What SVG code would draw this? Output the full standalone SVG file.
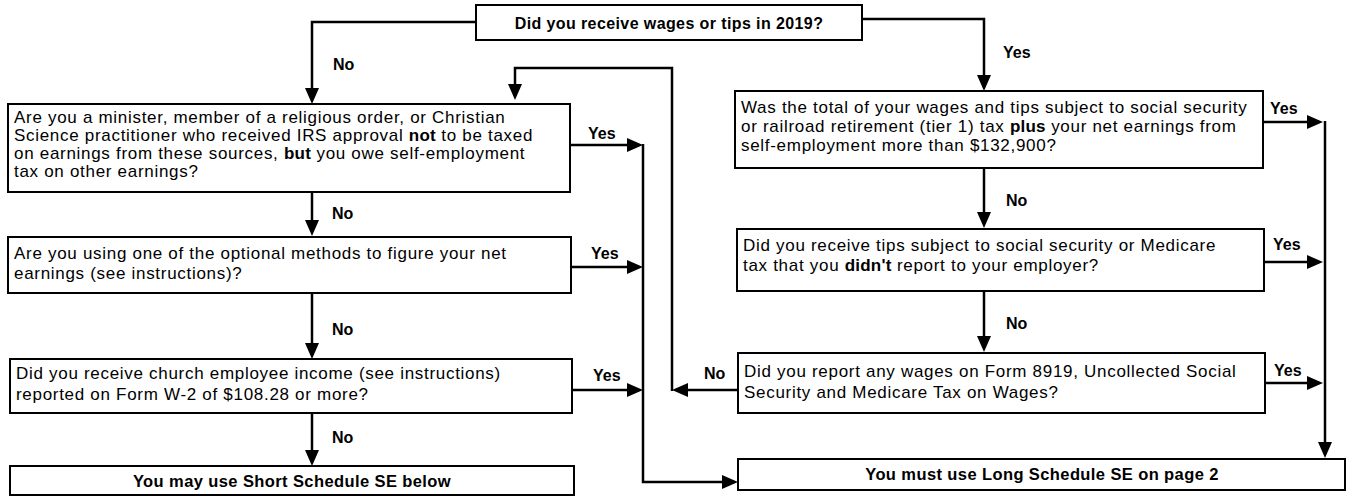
<svg xmlns="http://www.w3.org/2000/svg" width="1346" height="503" viewBox="0 0 1346 503">
<style>
.box{fill:#fff;stroke:#000;stroke-width:2}
.t{font-family:"Liberation Sans",Arial,sans-serif;font-size:17px;letter-spacing:0.7px;fill:#000}
.b{font-weight:bold;letter-spacing:0.2px}
.lbl{font-family:"Liberation Sans",Arial,sans-serif;font-size:16px;font-weight:bold;fill:#000}
.hd{font-family:"Liberation Sans",Arial,sans-serif;font-size:16px;letter-spacing:0.4px;font-weight:bold;fill:#000;text-anchor:middle}
.c{fill:none;stroke:#000;stroke-width:2.5}
</style>
<defs>
<marker id="ah" viewBox="0 0 16 14" refX="12" refY="7" markerWidth="16" markerHeight="14" markerUnits="userSpaceOnUse" orient="auto"><path d="M0,0 L16,7 L0,14 z" fill="#000"/></marker>
</defs>
<rect width="1346" height="503" fill="#fff"/>

<g id="connectors">
<path class="c" d="M476,22 H312 V100" marker-end="url(#ah)"/>
<path class="c" d="M862,19 H984 V87" marker-end="url(#ah)"/>
<path class="c" d="M312,192 V232" marker-end="url(#ah)"/>
<path class="c" d="M312,293 V355" marker-end="url(#ah)"/>
<path class="c" d="M312,413 V462" marker-end="url(#ah)"/>
<path class="c" d="M570,145 H639" marker-end="url(#ah)"/>
<path class="c" d="M571,267 H639" marker-end="url(#ah)"/>
<path class="c" d="M572,390 H639" marker-end="url(#ah)"/>
<path class="c" d="M643,144 V482 H734" marker-end="url(#ah)"/>
<path class="c" d="M738,390 H676" marker-end="url(#ah)"/>
<path class="c" d="M672,391 V68 H515 V96" marker-end="url(#ah)"/>
<path class="c" d="M984,168 V224" marker-end="url(#ah)"/>
<path class="c" d="M984,291 V348" marker-end="url(#ah)"/>
<path class="c" d="M1263,122 H1319" marker-end="url(#ah)"/>
<path class="c" d="M1264,262 H1319" marker-end="url(#ah)"/>
<path class="c" d="M1265,383 H1319" marker-end="url(#ah)"/>
<path class="c" d="M1325,121 V454" marker-end="url(#ah)"/>
<text class="lbl" x="333" y="70">No</text>
<text class="lbl" x="1003" y="58">Yes</text>
<text class="lbl" x="332" y="219">No</text>
<text class="lbl" x="332" y="335">No</text>
<text class="lbl" x="332" y="443">No</text>
<text class="lbl" x="588" y="139">Yes</text>
<text class="lbl" x="591" y="259">Yes</text>
<text class="lbl" x="593" y="381">Yes</text>
<text class="lbl" x="1006" y="206">No</text>
<text class="lbl" x="1006" y="329">No</text>
<text class="lbl" x="704" y="379">No</text>
<text class="lbl" x="1270" y="114">Yes</text>
<text class="lbl" x="1273" y="250">Yes</text>
<text class="lbl" x="1274" y="376">Yes</text>
</g>

<g id="start">
<rect class="box" x="476" y="5" width="386" height="35"/>
<text class="hd" x="669" y="29">Did you receive wages or tips in 2019?</text>
</g>

<g id="minister">
<rect class="box" x="8" y="104" width="562" height="88"/>
<text class="t" x="14" y="123">Are you a minister, member of a religious order, or Christian</text>
<text class="t" x="14" y="141">Science practitioner who received IRS approval <tspan class="b">not</tspan> to be taxed</text>
<text class="t" x="14" y="159">on earnings from these sources, <tspan class="b">but</tspan> you owe self-employment</text>
<text class="t" x="14" y="177">tax on other earnings?</text>
</g>

<g id="optional">
<rect class="box" x="8" y="237" width="563" height="56"/>
<text class="t" x="14" y="259">Are you using one of the optional methods to figure your net</text>
<text class="t" x="14" y="279">earnings (see instructions)?</text>
</g>

<g id="church">
<rect class="box" x="10" y="359" width="562" height="54"/>
<text class="t" x="16" y="379">Did you receive church employee income (see instructions)</text>
<text class="t" x="16" y="400">reported on Form W-2 of $108.28 or more?</text>
</g>

<g id="short">
<rect class="box" x="10" y="466" width="564" height="29"/>
<text class="hd" x="292" y="487" style="font-size:16.5px">You may use Short Schedule SE below</text>
</g>

<g id="total">
<rect class="box" x="735" y="91" width="528" height="77"/>
<text class="t" x="741" y="113">Was the total of your wages and tips subject to social security</text>
<text class="t" x="741" y="132">or railroad retirement (tier 1) tax <tspan class="b">plus</tspan> your net earnings from</text>
<text class="t" x="741" y="151">self-employment more than $132,900?</text>
</g>

<g id="tips">
<rect class="box" x="737" y="229" width="527" height="62"/>
<text class="t" x="743" y="251">Did you receive tips subject to social security or Medicare</text>
<text class="t" x="743" y="271">tax that you <tspan class="b">didn't</tspan> report to your employer?</text>
</g>

<g id="form8919">
<rect class="box" x="738" y="353" width="527" height="60"/>
<text class="t" x="744" y="377">Did you report any wages on Form 8919, Uncollected Social</text>
<text class="t" x="744" y="398">Security and Medicare Tax on Wages?</text>
</g>

<g id="long">
<rect class="box" x="738" y="459" width="607" height="31"/>
<text class="hd" x="1042" y="480" style="font-size:16.5px">You must use Long Schedule SE on page 2</text>
</g>
</svg>
